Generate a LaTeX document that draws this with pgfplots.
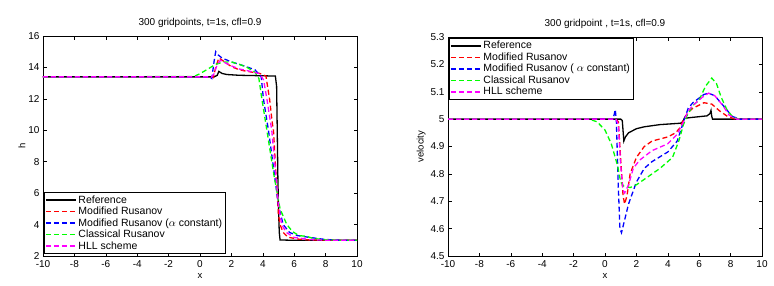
\documentclass[border=0pt]{standalone}
\usepackage{pgfplots}
\pgfplotsset{compat=1.18}
\usepackage{fontspec}
\setmainfont{Liberation Sans}
\definecolor{mgreen}{rgb}{0,1,0}
\definecolor{mmag}{rgb}{1,0,1}
\pgfplotsset{
  mstyle/.style={
    scale only axis, anchor=south west,
    width=314pt, xmin=-10, xmax=10, xtick={-10,-8,...,10},
    tick align=inside, tick pos=both, major tick length=3.5pt,
    axis line style={line width=0.5pt}, every tick/.style={black,line width=0.5pt},
    /pgf/number format/assume math mode=true,
    tick label style={font=\fontsize{10}{10}\selectfont},
    xticklabel style={yshift=-1pt},
    label style={font=\fontsize{9.5}{10}\selectfont},
    title style={font=\fontsize{10}{10}\selectfont, yshift=-1pt},
    xlabel={x}, xlabel style={yshift=1pt},
    legend style={font=\fontsize{10.5}{11}\selectfont, draw=black, inner sep=1pt, row sep=-1.6pt, cells={anchor=west}},
    legend cell align=left,
    legend image code/.code={\draw[#1] (0pt,0pt) -- (30pt,0pt);},
  },
}
\begin{document}
\begin{tikzpicture}
\useasboundingbox (0,0) rectangle (774pt,285pt);
\begin{axis}[mstyle, at={(43pt,29pt)}, height=220pt, ymin=2, ymax=16, ytick={2,4,...,16},
  title={300 gridpoints, t=1s, cfl=0.9}, ylabel={h}, ylabel style={yshift=-4pt},
  legend style={at={(0.003,0.01)}, anchor=south west}]
\addplot[black, line width=1.3pt] coordinates {(-10,13.4) (0.9,13.4) (1.1,13.5) (1.2,13.75) (1.4,13.62) (1.7,13.55) (2.5,13.5) (3.5,13.48) (4.8,13.45) (4.88,12.8) (4.92,10) (4.96,7) (5.0,5) (5.05,3.5) (5.1,3.02) (6,3.0) (10,3.0)};
\addplot[red, line width=1.3pt, dash pattern=on 5pt off 3pt] coordinates {(-10,13.4) (0.7,13.4) (0.85,13.35) (1.0,14.0) (1.2,14.6) (1.5,14.4) (2,14.05) (2.5,13.85) (3,13.75) (3.8,13.62) (4.2,13.45) (4.43,12) (4.6,10.5) (4.68,10) (4.85,7) (5.0,4.6) (5.1,4.0) (5.3,3.5) (5.6,3.2) (6.2,3.08) (7,3.02) (10,3.0)};
\addplot[blue, line width=1.3pt, dash pattern=on 5pt off 3pt] coordinates {(-10,13.4) (0.6,13.4) (0.75,13.3) (0.9,14.4) (1.0,15.0) (1.15,14.8) (1.4,14.6) (2.0,14.35) (2.8,14.1) (3.5,13.85) (3.9,13.4) (4.04,12) (4.2,11) (4.36,10) (4.7,7.5) (5.0,5.2) (5.3,4.0) (5.7,3.5) (6.2,3.3) (7,3.18) (8,3.05) (9,3.0) (10,3.0)};
\addplot[mgreen, line width=1.3pt, dash pattern=on 5pt off 3pt] coordinates {(-10,13.4) (-0.4,13.42) (0,13.6) (0.5,13.9) (1.0,14.2) (1.5,14.35) (2,14.35) (2.5,14.2) (3,14.0) (3.5,13.7) (3.75,13.3) (3.94,12) (4.1,11) (4.26,10) (4.7,7.2) (5.1,5.0) (5.53,4.0) (5.9,3.55) (6.3,3.3) (6.8,3.25) (7.2,3.12) (8,3.03) (9,3.0) (10,3.0)};
\addplot[mmag, line width=1.3pt, dash pattern=on 5pt off 3pt] coordinates {(-10,13.4) (0.75,13.4) (0.9,13.6) (1.1,14.2) (1.3,14.45) (1.6,14.3) (2,14.1) (2.5,13.9) (3,13.8) (3.8,13.6) (4.05,13.2) (4.26,12) (4.57,10) (4.8,7.5) (5.0,5.3) (5.2,4.0) (5.5,3.5) (6,3.18) (7,3.05) (8,3.0) (10,3.0)};
\legend{Reference, Modified Rusanov, Modified Rusanov ($\alpha$ constant), Classical Rusanov, HLL scheme}
\end{axis}
\begin{axis}[mstyle, at={(448pt,29pt)}, height=219pt, ymin=4.5, ymax=5.3, ytick={4.5,4.6,...,5.3},
  yticklabels={4.5,4.6,4.7,4.8,4.9,5,5.1,5.2,5.3},
  title={300 gridpoint , t=1s, cfl=0.9}, ylabel={velocity}, ylabel style={yshift=-2pt},
  legend style={at={(0.003,0.995)}, anchor=north west}]
\addplot[black, line width=1.3pt] coordinates {(-10,5.0) (0.85,5.0) (1.0,5.0) (1.1,4.995) (1.2,4.92) (1.3,4.935) (1.5,4.95) (2,4.965) (2.5,4.972) (3.5,4.98) (4.8,4.985) (4.95,4.99) (5.05,5.003) (5.5,5.006) (6.5,5.012) (6.68,5.02) (6.75,5.032) (6.8,5.01) (6.85,5.0) (10,5.0)};
\addplot[red, line width=1.3pt, dash pattern=on 5pt off 3pt] coordinates {(-10,5.0) (0.7,5.0) (0.85,4.99) (1.0,4.85) (1.15,4.72) (1.25,4.69) (1.4,4.72) (1.6,4.8) (2,4.86) (2.5,4.9) (3,4.92) (4,4.935) (4.5,4.95) (4.8,4.97) (5.0,5.0) (5.3,5.025) (5.6,5.04) (6.3,5.06) (6.8,5.055) (7.3,5.03) (7.8,5.01) (8.3,5.0) (10,5.0)};
\addplot[blue, line width=1.3pt, dash pattern=on 5pt off 3pt] coordinates {(-10,5.0) (0.5,5.0) (0.6,5.02) (0.65,5.035) (0.72,5.0) (0.85,4.75) (0.95,4.6) (1.05,4.585) (1.2,4.62) (1.5,4.69) (2,4.77) (2.5,4.82) (3,4.845) (4,4.88) (4.6,4.92) (5.0,4.99) (5.3,5.04) (5.6,5.06) (6.3,5.09) (6.6,5.095) (7.0,5.085) (7.6,5.045) (8.1,5.01) (8.6,5.0) (10,5.0)};
\addplot[mgreen, line width=1.3pt, dash pattern=on 5pt off 3pt] coordinates {(-10,5.0) (-1,5.0) (-0.5,4.99) (0,4.96) (0.4,4.91) (0.8,4.83) (1.0,4.77) (1.2,4.755) (1.6,4.75) (2.0,4.76) (2.5,4.78) (3.5,4.82) (4.3,4.86) (4.7,4.92) (5.0,4.98) (5.2,5.01) (5.6,5.05) (6.0,5.07) (6.4,5.12) (6.8,5.15) (7.1,5.13) (7.4,5.08) (7.8,5.03) (8.2,5.005) (8.6,5.0) (10,5.0)};
\addplot[mmag, line width=1.3pt, dash pattern=on 5pt off 3pt] coordinates {(-10,5.0) (0.7,5.0) (0.85,4.98) (1.0,4.83) (1.15,4.74) (1.25,4.73) (1.5,4.76) (1.8,4.82) (2.2,4.85) (3,4.885) (4,4.91) (4.6,4.945) (5.0,4.99) (5.3,5.03) (5.6,5.05) (6.2,5.08) (6.6,5.095) (7.0,5.085) (7.5,5.05) (7.9,5.015) (8.4,5.0) (10,5.0)};
\legend{Reference, Modified Rusanov, Modified Rusanov ( $\alpha$ constant), Classical Rusanov, HLL scheme}
\end{axis}
\end{tikzpicture}
\end{document}
